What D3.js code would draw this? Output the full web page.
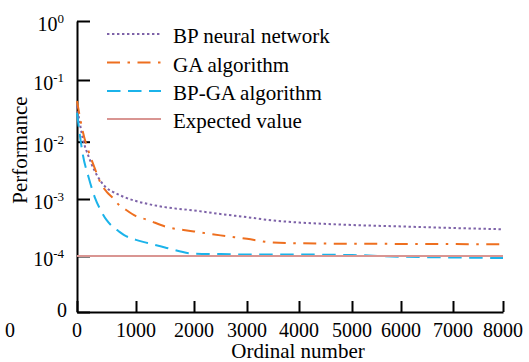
<!DOCTYPE html>
<html><head><meta charset="utf-8">
<script src="https://cdn.jsdelivr.net/npm/d3@7"></script>
</head><body style="margin:0">
<svg id="c" width="529" height="362"></svg>
<script>
// ---- data ----
const xValues = [0,100,200,300,400,500,600,700,800,1000,1200,1500,2000,2500,3000,3500,4000,5000,6000,7000,8000];
const bpValues = [0.0379,0.0111,0.0054,0.00308,0.00206,0.00156,0.00135,0.0012,0.00108,9.2e-4,8.2e-4,7.2e-4,6.3e-4,5.45e-4,4.8e-4,4.2e-4,3.87e-4,3.5e-4,3.3e-4,3.1e-4,2.94e-4];
const gaValues = [0.0457,0.0144,0.0066,0.00347,0.0019,0.00135,0.00106,8.1e-4,6.8e-4,5.0e-4,4.3e-4,3.3e-4,2.7e-4,2.3e-4,2.0e-4,1.72e-4,1.67e-4,1.64e-4,1.63e-4,1.62e-4,1.6e-4];
const bpgaValues = [0.0292,0.00586,0.00233,0.00108,6.4e-4,4.3e-4,3.3e-4,2.75e-4,2.33e-4,1.92e-4,1.69e-4,1.41e-4,1.1e-4,1.08e-4,1.06e-4,1.06e-4,1.06e-4,1.04e-4,9.7e-5,9.4e-5,9.2e-5];
const expectedX = [0,8000];
const expectedValues = [1e-4,1e-4];
const xTicks = [0,1000,2000,3000,4000,5000,6000,7000,8000];
const yTicks = [1,0.1,0.01,0.001,0.0001,0.00001];
const yTickBase = ["10","10","10","10","10","0"];
const yTickExp = ["0","-1","-2","-3","-4",""];
const seriesNames = ["BP neural network","GA algorithm","BP-GA algorithm","Expected value"];
const xTitle = "Ordinal number";
const yTitle = "Performance";

// ---- layout ----
const svg = d3.select("#c");
const x = d3.scaleLinear().domain(xTicks).range([77,136,194,247,299,352,401,453,503]);
const y = d3.scaleLog().domain(yTicks).range([21,80,141.7,199,256,312]);

const styles = [
  {color:"#7d62a8", dash:"2.4,2.6", w:2},
  {color:"#ee6f1f", dash:"13,7.5,2.5,7.5", w:2},
  {color:"#1bb3ea", dash:"13.5,7.5", w:2},
  {color:"#d99592", dash:null, w:2}
];

function txt(parent, size){
  return parent.append("text").style("font-family","'Liberation Serif'").style("font-size", size+"px");
}

// axes: tick marks via d3 axes (labels drawn separately)
const xAxis = d3.axisBottom(x).tickValues(xTicks).tickFormat("")
  .tickSizeInner(-11).tickSizeOuter(0);
svg.append("g").attr("transform","translate(0,312)").call(xAxis);
const yAxis = d3.axisLeft(y).tickValues(yTicks).tickFormat("")
  .tickSizeInner(-13).tickSizeOuter(0);
svg.append("g").attr("transform","translate(77,0)").call(yAxis);
svg.selectAll(".domain, .tick line").attr("stroke","#000").attr("stroke-width",2);
svg.selectAll(".tick text").remove();

// x tick labels
xTicks.forEach(v=>{
  txt(svg, 20).attr("x", x(v)).attr("y", 337).attr("text-anchor","middle").text(v);
});
// stray label at far left of x axis row
txt(svg, 20).attr("x",10).attr("y",337).attr("text-anchor","middle").text("0");

// y tick labels
yTicks.forEach((v,i)=>{
  const t = txt(svg, 20).attr("text-anchor","end");
  if (yTickExp[i]) {
    t.attr("x", 64).attr("y", y(v)+10);
    t.append("tspan").text(yTickBase[i]);
    t.append("tspan").attr("dy", -8).style("font-size","13px").text(yTickExp[i]);
  } else {
    t.attr("x", 67).attr("y", y(v)+5).text(yTickBase[i]);
  }
});

// lines
const line = d3.line().x(d=>x(d[0])).y(d=>y(d[1])).curve(d3.curveMonotoneX);
const series = [
  d3.zip(xValues, bpValues),
  d3.zip(xValues, gaValues),
  d3.zip(xValues, bpgaValues),
  d3.zip(expectedX, expectedValues)
];
series.forEach((s,i)=>{
  svg.append("path").datum(s).attr("d",line).attr("fill","none")
    .attr("stroke",styles[i].color).attr("stroke-width",styles[i].w)
    .attr("stroke-dasharray",styles[i].dash);
});

// legend
const legendY = [34,62.5,91,119];
seriesNames.forEach((n,i)=>{
  svg.append("line").attr("x1",107).attr("x2",161).attr("y1",legendY[i]).attr("y2",legendY[i])
    .attr("stroke",styles[i].color).attr("stroke-width",styles[i].w).attr("stroke-dasharray",styles[i].dash);
  txt(svg, 21).attr("x",173).attr("y",legendY[i]+9).text(n);
});

// titles
txt(svg, 21).attr("x",298).attr("y",358).attr("text-anchor","middle").text(xTitle);
txt(svg, 21).attr("transform","translate(27,150) rotate(-90)").attr("text-anchor","middle").text(yTitle);
</script>
</body></html>
